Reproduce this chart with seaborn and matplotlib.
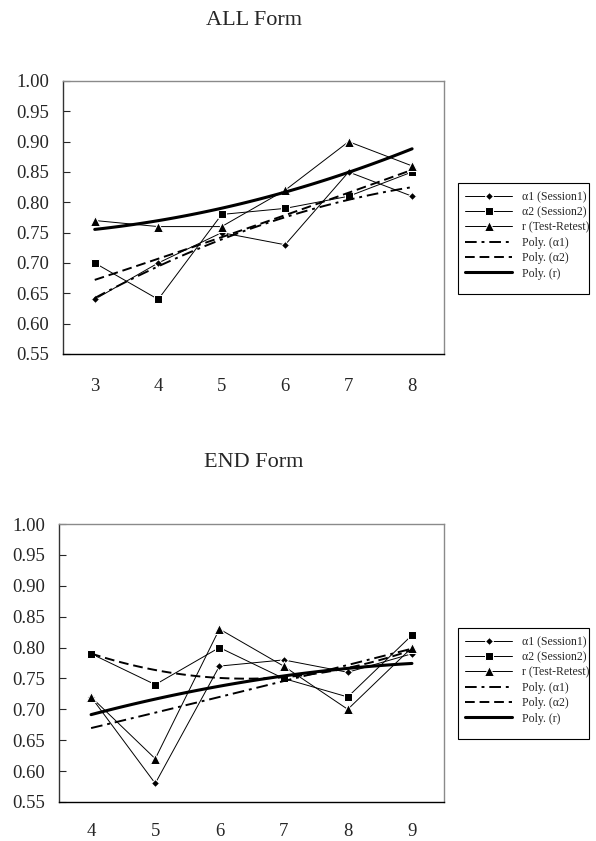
import numpy as np
import pandas as pd
import seaborn as sns
import matplotlib.pyplot as plt
from matplotlib.patches import Rectangle
from matplotlib.ticker import FormatStrFormatter

# ALL Form
all_x = [3, 4, 5, 6, 7, 8]
all_a1 = [0.64, 0.70, 0.75, 0.73, 0.85, 0.81]
all_a2 = [0.70, 0.64, 0.78, 0.79, 0.81, 0.85]
all_r = [0.77, 0.76, 0.76, 0.82, 0.90, 0.86]

# END Form
end_x = [4, 5, 6, 7, 8, 9]
end_a1 = [0.72, 0.58, 0.77, 0.78, 0.76, 0.79]
end_a2 = [0.79, 0.74, 0.80, 0.75, 0.72, 0.82]
end_r = [0.72, 0.62, 0.83, 0.77, 0.70, 0.80]

y_ticks = [0.55, 0.60, 0.65, 0.70, 0.75, 0.80, 0.85, 0.90, 0.95, 1.00]

labels = ['\u03b11 (Session1)', '\u03b12 (Session2)', 'r (Test-Retest)',
          'Poly. (\u03b11)', 'Poly. (\u03b12)', 'Poly. (r)']

sns.set_style('white')
plt.rcParams['font.family'] = ['Liberation Serif', 'DejaVu Serif']

W, H = 596, 841


def poly_curve(xs, vals):
    # 2nd order trend line, like Excel's "Poly." trendline
    coef = np.polyfit(xs, vals, 2)
    xx = np.linspace(xs[0], xs[-1], 120)
    return pd.DataFrame({'x': xx, 'y': np.polyval(coef, xx)})


def draw_panel(ax, xs, a1, a2, r, box_top, xpad):
    df = pd.DataFrame({'x': xs, 'a1': a1, 'a2': a2, 'r': r})
    sns.lineplot(data=df, x='x', y='a1', ax=ax, color='black', linewidth=0.7,
                 marker='D', markersize=4.5, label=labels[0])
    sns.lineplot(data=df, x='x', y='a2', ax=ax, color='black', linewidth=0.7,
                 marker='s', markersize=6, label=labels[1])
    sns.lineplot(data=df, x='x', y='r', ax=ax, color='black', linewidth=0.7,
                 marker='^', markersize=7, label=labels[2])

    p1 = poly_curve(xs, a1)
    p2 = poly_curve(xs, a2)
    p3 = poly_curve(xs, r)
    sns.lineplot(data=p1, x='x', y='y', ax=ax, color='black', linewidth=1.4,
                 linestyle=(0, (6, 2.5, 1.5, 2.5)), label=labels[3])
    sns.lineplot(data=p2, x='x', y='y', ax=ax, color='black', linewidth=1.4,
                 linestyle=(0, (5, 2.5)), label=labels[4])
    sns.lineplot(data=p3, x='x', y='y', ax=ax, color='black', linewidth=2.2,
                 label=labels[5])

    ax.set_xlim(xs[0] - 0.5, xs[-1] + 0.5)
    ax.set_ylim(0.55, 1.00)
    ax.set_xticks(xs)
    ax.set_yticks(y_ticks)
    ax.yaxis.set_major_formatter(FormatStrFormatter('%.2f'))
    ax.set_xlabel('')
    ax.set_ylabel('')
    ax.tick_params(axis='x', length=0, pad=xpad, labelsize=13.5)
    ax.tick_params(axis='y', direction='in', length=5, width=0.8, pad=10,
                   labelsize=13.5, left=True)
    for side in ['top', 'right']:
        ax.spines[side].set_color('#8a8a8a')
        ax.spines[side].set_linewidth(1.0)
    ax.spines['left'].set_color('#333333')
    ax.spines['bottom'].set_color('black')
    ax.spines['left'].set_linewidth(1.0)
    ax.spines['bottom'].set_linewidth(1.0)

    handles, labs = ax.get_legend_handles_labels()
    if ax.get_legend() is not None:
        ax.get_legend().remove()
    # legend box drawn separately (text runs past the frame in the original)
    fig.add_artist(Rectangle((458 / W, 1 - (box_top + 111) / H), 131 / W, 111 / H,
                             transform=fig.transFigure, fill=False,
                             edgecolor='black', linewidth=0.8))
    fig.legend(handles, labs, loc='upper left',
               bbox_to_anchor=(465 / W, 1 - (box_top + 8) / H),
               bbox_transform=fig.transFigure, fontsize=8.5,
               frameon=False, handlelength=4.0, handletextpad=0.8,
               labelspacing=0.28, borderpad=0, borderaxespad=0)


fig = plt.figure(figsize=(W / 100, H / 100), dpi=100)
ax1 = fig.add_axes([0.1057, 0.5791, 0.639, 0.3246])
ax2 = fig.add_axes([0.0990, 0.0464, 0.6460, 0.3305])

draw_panel(ax1, all_x, all_a1, all_a2, all_r, 183, 17)
draw_panel(ax2, end_x, end_a1, end_a2, end_r, 628, 15)

fig.text(0.426, 0.9703, 'ALL Form', ha='center', va='baseline', fontsize=16)
fig.text(0.426, 0.4447, 'END Form', ha='center', va='baseline', fontsize=16)

fig.savefig('out.png', dpi=100)
